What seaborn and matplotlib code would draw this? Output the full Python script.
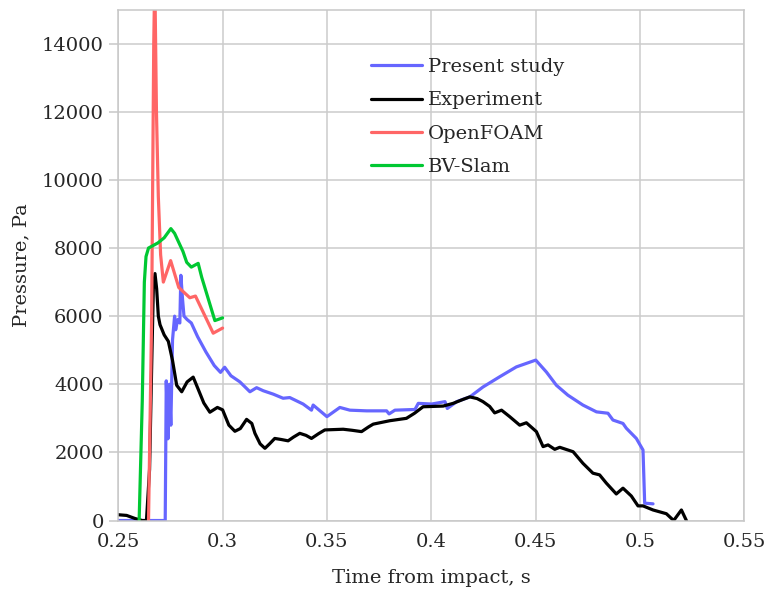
import numpy as np
import pandas as pd
import matplotlib
matplotlib.use("Agg")
import matplotlib.pyplot as plt
import seaborn as sns

# ─────────────────────────────────────────
# DATA
# ─────────────────────────────────────────

series_names  = ["Present study", "Experiment", "OpenFOAM", "BV-Slam"]
series_colors = ["#6666ff", "#000000", "#ff6666", "#00c832"]

t_present = [0.2500, 0.2725, 0.2730, 0.2738, 0.2745, 0.2752, 0.2760, 0.2770,
             0.2775, 0.2785, 0.2795, 0.2800, 0.2808, 0.2815, 0.2830, 0.2850,
             0.2880, 0.2920, 0.2960, 0.2990, 0.3010, 0.3040, 0.3083, 0.3131,
             0.3163, 0.3195, 0.3243, 0.3290, 0.3322, 0.3386, 0.3426, 0.3434,
             0.3500, 0.3562, 0.3610, 0.3690, 0.3786, 0.3798, 0.3826, 0.3922,
             0.3938, 0.4002, 0.4066, 0.4077, 0.4122, 0.4185, 0.4248, 0.4328,
             0.4408, 0.4501, 0.4552, 0.4600, 0.4655, 0.4727, 0.4792, 0.4847,
             0.4871, 0.4919, 0.4935, 0.4983, 0.5015, 0.5023, 0.5063]
p_present = [0, 0, 4100, 2400, 4000, 2800, 5300, 6000,
             5600, 5900, 5800, 7200, 6500, 6000, 5900, 5800,
             5400, 4950, 4550, 4350, 4500, 4250, 4070, 3780,
             3900, 3810, 3710, 3590, 3610, 3420, 3240, 3390,
             3050, 3320, 3240, 3220, 3220, 3130, 3240, 3260,
             3440, 3420, 3490, 3290, 3490, 3630, 3920, 4220,
             4510, 4710, 4360, 3970, 3680, 3390, 3190, 3150,
             2950, 2850, 2710, 2410, 2070, 510, 490]

t_exp = [0.2500, 0.2540, 0.2580, 0.2615, 0.2635, 0.2650, 0.2660, 0.2668,
         0.2676, 0.2684, 0.2692, 0.2700, 0.2720, 0.2740, 0.2760, 0.2780,
         0.2804, 0.2830, 0.2859, 0.2880, 0.2910, 0.2939, 0.2975, 0.3000,
         0.3030, 0.3059, 0.3085, 0.3115, 0.3140, 0.3155, 0.3180, 0.3203,
         0.3225, 0.3250, 0.3280, 0.3314, 0.3340, 0.3370, 0.3400, 0.3426,
         0.3460, 0.3490, 0.3578, 0.3620, 0.3666, 0.3700, 0.3722, 0.3801,
         0.3881, 0.3920, 0.3961, 0.4057, 0.4105, 0.4150, 0.4185, 0.4220,
         0.4248, 0.4280, 0.4304, 0.4337, 0.4376, 0.4424, 0.4456, 0.4504,
         0.4536, 0.4560, 0.4592, 0.4616, 0.4680, 0.4727, 0.4775, 0.4807,
         0.4839, 0.4887, 0.4919, 0.4959, 0.4991, 0.5015, 0.5063, 0.5127,
         0.5162, 0.5199, 0.5223]
p_exp = [170, 150, 60, 0, 0, 1500, 4500, 6800,
         7250, 6800, 6000, 5750, 5450, 5260, 4700, 3970,
         3780, 4070, 4210, 3900, 3450, 3180, 3320, 3250,
         2800, 2620, 2700, 2970, 2850, 2560, 2250, 2120,
         2250, 2410, 2380, 2340, 2450, 2560, 2500, 2410,
         2550, 2660, 2680, 2650, 2610, 2750, 2830, 2930,
         3000, 3150, 3340, 3360, 3440, 3550, 3630, 3580,
         3490, 3350, 3160, 3240, 3050, 2800, 2870, 2610,
         2170, 2220, 2090, 2150, 2020, 1680, 1390, 1340,
         1100, 780, 950, 720, 430, 430, 310, 200,
         0, 310, 0]

t_foam = [0.2645, 0.2660, 0.2670, 0.2675, 0.2683, 0.2692, 0.2703, 0.2716,
          0.2751, 0.2790, 0.2843, 0.2870, 0.2955, 0.3000]
p_foam = [0, 6000, 14000, 16000, 12000, 9500, 7800, 7000,
          7630, 6840, 6540, 6590, 5500, 5650]

t_bv = [0.2600, 0.2615, 0.2625, 0.2633, 0.2645, 0.2660, 0.2690, 0.2720,
        0.2752, 0.2770, 0.2810, 0.2828, 0.2850, 0.2883, 0.2900, 0.2963,
        0.3000]
p_bv = [0, 3500, 7000, 7750, 8000, 8050, 8150, 8300,
        8570, 8430, 7900, 7580, 7440, 7550, 7140, 5870,
        5950]

x_ticks = [0.25, 0.3, 0.35, 0.4, 0.45, 0.5, 0.55]
y_ticks = [0, 2000, 4000, 6000, 8000, 10000, 12000, 14000]

# ─────────────────────────────────────────
# LONG TABLE FOR SEABORN
# ─────────────────────────────────────────

frames = []
for name, t, p in zip(series_names,
                      [t_present, t_exp, t_foam, t_bv],
                      [p_present, p_exp, p_foam, p_bv]):
    frames.append(pd.DataFrame({"t": t, "p": p, "Series": name}))
df = pd.concat(frames, ignore_index=True)

# ─────────────────────────────────────────
# PLOT
# ─────────────────────────────────────────

sns.set_style("whitegrid", {"grid.color": "#cccccc", "axes.edgecolor": "#c8c8c8"})
plt.rcParams["font.family"] = ["DejaVu Serif"]

fig, ax = plt.subplots(figsize=(7.68, 5.99), dpi=100)
fig.subplots_adjust(left=0.154, right=0.969, top=0.984, bottom=0.131)

sns.lineplot(data=df, x="t", y="p", hue="Series", hue_order=series_names,
             palette=series_colors, estimator=None, sort=False,
             linewidth=2.3, ax=ax)

ax.set_xlim(0.25, 0.55)
ax.set_ylim(0, 15000)
ax.set_xticks(x_ticks)
ax.set_xticklabels([f"{v:g}" for v in x_ticks])
ax.set_yticks(y_ticks)
ax.set_yticklabels([str(v) for v in y_ticks])
ax.grid(True, color="#cccccc", linewidth=1.1)
for s in ax.spines.values():
    s.set_color("#c8c8c8")
    s.set_linewidth(1.1)

ax.tick_params(axis="y", left=True, length=6.5, width=1.1, color="#c8c8c8",
               pad=4, labelsize=14)
ax.tick_params(axis="x", bottom=False, length=0, pad=9, labelsize=14)

ax.set_xlabel("Time from impact, s", fontsize=14, labelpad=13)
ax.set_ylabel("Pressure, Pa", fontsize=14, labelpad=8)

sns.move_legend(ax, "upper left", bbox_to_anchor=(0.392, 0.92), frameon=False,
                title=None, fontsize=14, handlelength=2.6, handletextpad=0.3,
                labelspacing=0.78, borderaxespad=0, borderpad=0.4)
for line in ax.get_legend().get_lines():
    line.set_linewidth(2.3)

plt.savefig("out.png", dpi=100)
